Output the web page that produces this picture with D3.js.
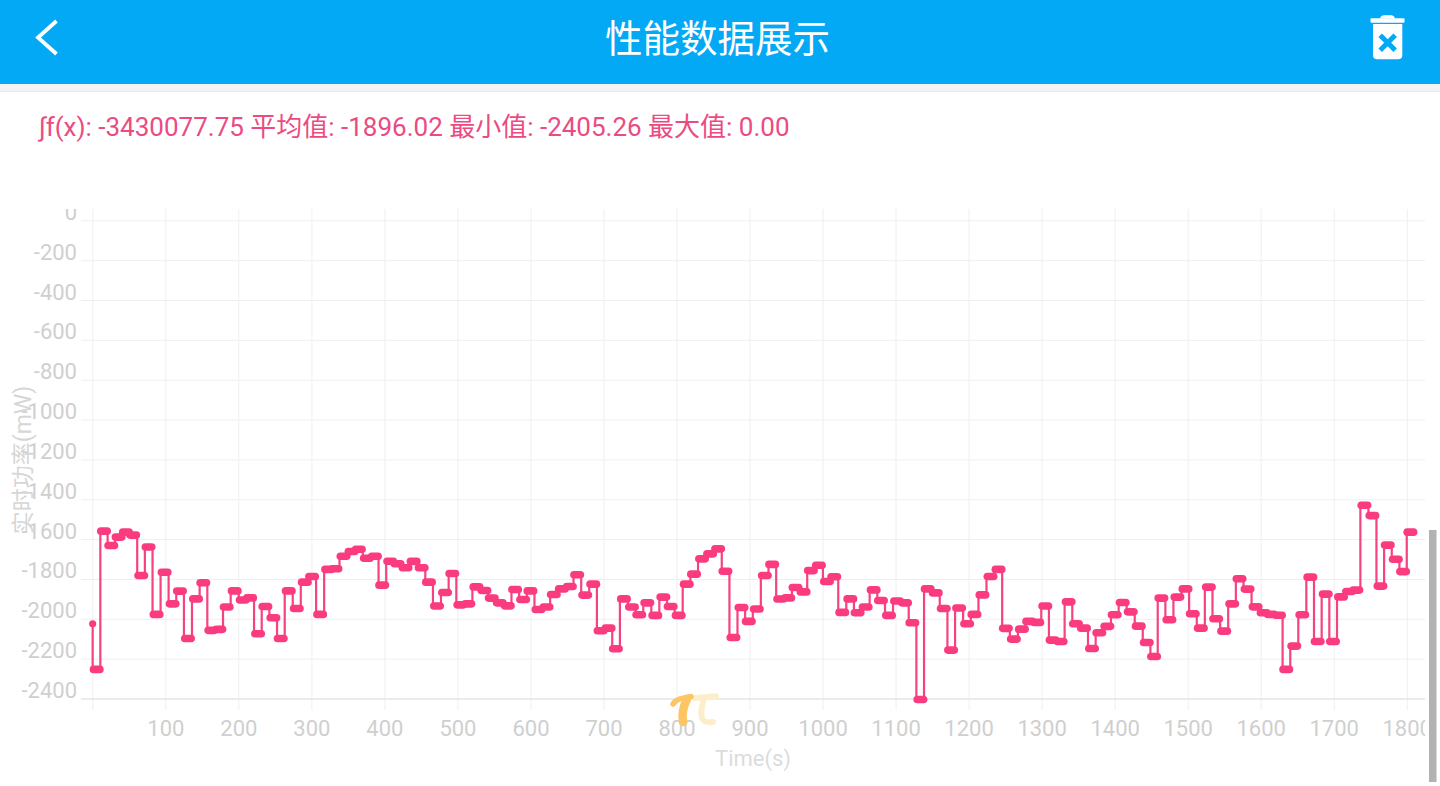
<!DOCTYPE html>
<html>
<head>
<meta charset="utf-8">
<script src="https://cdn.jsdelivr.net/npm/d3@7"></script>
<style>
    html, body { margin: 0; padding: 0; background: #fff; overflow: hidden; }
    svg { display: block; }
    text { font-family: Roboto, "Noto Sans CJK SC", sans-serif; }
</style>
</head>
<body>
<div id="chart"></div>
<script>
const titleText = '性能数据展示';
const statsText = '∫f(x): -3430077.75 平均值: -1896.02 最小值: -2405.26 最大值: 0.00';
const yLabel = '实时功率(mW)';
const xLabel = 'Time(s)';

const xTicks = [0, 100, 200, 300, 400, 500, 600, 700, 800, 900, 1000, 1100, 1200, 1300, 1400, 1500, 1600, 1700, 1800];
const yTicks = [0, -200, -400, -600, -800, -1000, -1200, -1400, -1600, -1800, -2000, -2200, -2400];

// first sample, before the held readings start
const firstTime = 0.5;
const firstPower = -2025;

// centre of each held reading, seconds
const times = [
    6, 16, 26, 36, 46, 56, 67, 77, 88, 99, 110, 120, 131, 142, 152, 163, 174, 184, 195, 206,
    216, 227, 237, 248, 258, 269, 280, 291, 301, 312, 323, 333, 344, 355, 365, 376, 387, 397, 408, 418,
    429, 440, 451, 461, 472, 483, 493, 504, 515, 526,
    537, 547, 558, 569, 579, 590, 600, 611, 622, 632, 643, 654, 664, 675, 686, 696, 707, 717, 728, 739,
    749, 760, 771, 782, 792, 803, 814, 824, 835, 846, 857, 867, 878, 889, 899, 910, 921, 931, 942, 953,
    963, 974, 984, 995, 1006, 1016, 1027, 1038, 1048, 1059, 1070, 1080, 1091, 1102, 1113, 1123, 1134, 1144, 1155, 1166,
    1176, 1187,
    1198, 1208, 1219, 1230, 1241, 1251, 1262, 1273, 1283, 1294, 1305, 1315, 1326, 1337, 1347, 1358, 1369, 1379, 1390, 1400,
    1411, 1422, 1433, 1444, 1454, 1464, 1475, 1486, 1497, 1507, 1518, 1529, 1539, 1550, 1561, 1571, 1582, 1593, 1604, 1614,
    1625, 1635, 1646, 1657, 1668, 1678, 1689, 1699, 1710, 1721, 1731, 1742, 1753, 1764, 1774, 1785, 1795, 1805
];

// power, mW
const power = [
    -2254, -1560, -1632, -1590, -1565, -1580, -1783, -1640, -1978, -1766, -1925, -1861, -2099, -1900, -1819, -2058, -2053, -1941, -1860, -1906,
    -1895, -2075, -1938, -1995, -2099, -1860, -1948, -1816, -1788, -1978, -1752, -1749, -1686, -1662, -1651, -1696, -1686, -1831, -1711, -1724,
    -1744, -1712, -1744, -1816, -1936, -1868, -1773, -1930, -1925, -1840,
    -1858, -1896, -1920, -1935, -1853, -1903, -1860, -1953, -1941, -1878, -1850, -1838, -1779, -1881, -1826, -2060, -2047, -2150, -1900, -1941,
    -1980, -1920, -1983, -1891, -1938, -1983, -1826, -1776, -1699, -1674, -1649, -1761, -2094, -1943, -2013, -1951, -1783, -1727, -1901, -1895,
    -1843, -1865, -1758, -1731, -1813, -1789, -1968, -1900, -1970, -1941, -1855, -1908, -1983, -1911, -1920, -2020, -2405, -1850, -1870, -1948,
    -2157, -1946,
    -2025, -1978, -1880, -1788, -1752, -2048, -2102, -2052, -2013, -2018, -1936, -2107, -2114, -1915, -2025, -2047, -2149, -2070, -2038, -1980,
    -1918, -1965, -2037, -2119, -2189, -1896, -2005, -1891, -1850, -1975, -2047, -1841, -2000, -2062, -1925, -1799, -1851, -1940, -1970, -1978,
    -1982, -2254, -2137, -1980, -1791, -2114, -1876, -2114, -1890, -1863, -1856, -1430, -1482, -1836, -1630, -1701, -1763, -1565
];

const pink = '#fb3b80';
const labelColor = '#cfcfcf';
const gridColor = '#efefef';
const headerBlue = '#03a9f5';

const svg = d3.select('#chart').append('svg').attr('width', 1440).attr('height', 786);

// header bar
svg.append('rect').attr('x', 0).attr('y', 84).attr('width', 1440).attr('height', 8).attr('fill', '#f1f3f4');
svg.append('rect').attr('x', 0).attr('y', 91).attr('width', 1440).attr('height', 1).attr('fill', '#e8eaeb');
svg.append('rect').attr('x', 0).attr('y', 0).attr('width', 1440).attr('height', 84).attr('fill', headerBlue);

svg.append('text')
    .attr('x', 717.5).attr('y', 52)
    .attr('text-anchor', 'middle')
    .attr('font-size', 37.5)
    .attr('fill', '#fff')
    .text(titleText);

svg.append('path')
    .attr('d', 'M56.5,21 L38,37.5 L56.5,54')
    .attr('fill', 'none')
    .attr('stroke', '#fff')
    .attr('stroke-width', 3.8);

// trash icon
const trash = svg.append('g');
trash.append('path').attr('d', 'M1380,18.5 Q1381,15.3 1384,15.3 L1391,15.3 Q1394,15.3 1395,18.5 Z').attr('fill', '#fff');
trash.append('rect').attr('x', 1370.5).attr('y', 18.3).attr('width', 34).attr('height', 4.5).attr('rx', 1).attr('fill', '#fff');
trash.append('path').attr('d', 'M1373,24 L1402.3,24 L1402.3,55 Q1402.3,59.3 1398,59.3 L1377.3,59.3 Q1373,59.3 1373,55 Z').attr('fill', '#fff');
trash.append('path')
    .attr('d', 'M1380.2,35.2 L1395.2,50.2 M1395.2,35.2 L1380.2,50.2')
    .attr('stroke', headerBlue)
    .attr('stroke-width', 5)
    .attr('fill', 'none');

svg.append('text')
    .attr('x', 39).attr('y', 136)
    .attr('font-size', 26)
    .attr('fill', '#ec4a82')
    .text(statsText);

const margin = { top: 209, right: 1425, bottom: 710, left: 81 };
const x = d3.scaleLinear().domain([0, 1825]).range([92.3, 1425]);
const y = d3.scaleLinear().domain([0, -2400]).range([220.3, 698.5]);

const defs = svg.append('defs');
defs.append('clipPath').attr('id', 'plotClip').append('rect')
    .attr('x', 0).attr('y', margin.top)
    .attr('width', margin.right).attr('height', 786 - margin.top);

const axes = svg.append('g').attr('clip-path', 'url(#plotClip)');

const xAxis = axes.append('g')
    .attr('transform', `translate(0,${margin.bottom})`)
    .call(d3.axisBottom(x)
        .tickValues(xTicks)
        .tickSize(-(margin.bottom - margin.top))
        .tickFormat(d => d === 0 ? '' : d));
xAxis.select('.domain').remove();
xAxis.selectAll('line').attr('stroke', gridColor).attr('stroke-width', 1);
xAxis.selectAll('text')
    .attr('y', 10)
    .attr('font-size', 22)
    .attr('font-family', 'Roboto')
    .attr('fill', labelColor);

const yAxis = axes.append('g')
    .attr('transform', `translate(${margin.right},0)`)
    .call(d3.axisLeft(y)
        .tickValues(yTicks)
        .tickSize(margin.right - margin.left));
yAxis.select('.domain').remove();
yAxis.selectAll('line')
    .attr('stroke', d => d === -2400 ? '#e4e4e4' : gridColor)
    .attr('stroke-width', d => d === -2400 ? 1.6 : 1);
yAxis.selectAll('text')
    .attr('x', 77 - margin.right)
    .attr('dy', '0.32em')
    .attr('transform', 'translate(0,-8)')
    .attr('text-anchor', 'end')
    .attr('font-size', 22)
    .attr('font-family', 'Roboto')
    .attr('fill', labelColor)
    .text(d => d3.format('d')(d).replace('−', '-'));

svg.append('text')
    .attr('x', 753).attr('y', 766)
    .attr('text-anchor', 'middle')
    .attr('font-size', 22)
    .attr('fill', '#dcdcdc')
    .text(xLabel);

svg.append('text')
    .attr('transform', 'translate(31,460) rotate(-90)')
    .attr('text-anchor', 'middle')
    .attr('font-size', 23)
    .attr('fill', '#d6d6d6')
    .text(yLabel);

// watermark
const mark = svg.append('g').attr('fill', 'none').attr('stroke-linecap', 'round');
mark.append('path')
    .attr('d', 'M695,698 L708,697 Q714,696 716,696.5 M704,699 Q700,711 702,718 Q704,723 713,722')
    .attr('stroke', '#fdeecb').attr('stroke-width', 6);
mark.append('path')
    .attr('d', 'M673,704 Q676,699 684,698 L691,696.5')
    .attr('stroke', '#fdc564').attr('stroke-width', 5.5);
mark.append('path')
    .attr('d', 'M687,699 Q681,711 683,722')
    .attr('stroke', '#fdc564').attr('stroke-width', 8.5);

// the data
const readings = times.map((t, i) => ({ t, p: power[i] }));

const stepLine = d3.line()
    .x(d => x(d.t))
    .y(d => y(d.p))
    .curve(d3.curveStep);

const chart = svg.append('g');

chart.append('path')
    .datum(readings)
    .attr('fill', 'none')
    .attr('stroke', '#f5437f')
    .attr('stroke-width', 2.2)
    .attr('d', stepLine);

chart.append('line')
    .attr('x1', x(firstTime)).attr('x2', x(firstTime))
    .attr('y1', y(firstPower)).attr('y2', y(power[0]))
    .attr('stroke', '#f5437f')
    .attr('stroke-width', 2.2);

chart.append('circle')
    .attr('cx', x(firstTime))
    .attr('cy', y(firstPower))
    .attr('r', 3.6)
    .attr('fill', pink);

chart.selectAll('.reading')
    .data(readings)
    .enter().append('line')
    .attr('class', 'reading')
    .attr('x1', d => x(d.t - 4.4))
    .attr('x2', d => x(d.t + 4.4))
    .attr('y1', d => y(d.p))
    .attr('y2', d => y(d.p))
    .attr('stroke', pink)
    .attr('stroke-width', 7.6)
    .attr('stroke-linecap', 'round');

// scrollbar
svg.append('rect')
    .attr('x', 1429).attr('y', 530)
    .attr('width', 7.5).attr('height', 252)
    .attr('fill', '#b2b2b2');
</script>
</body>
</html>
